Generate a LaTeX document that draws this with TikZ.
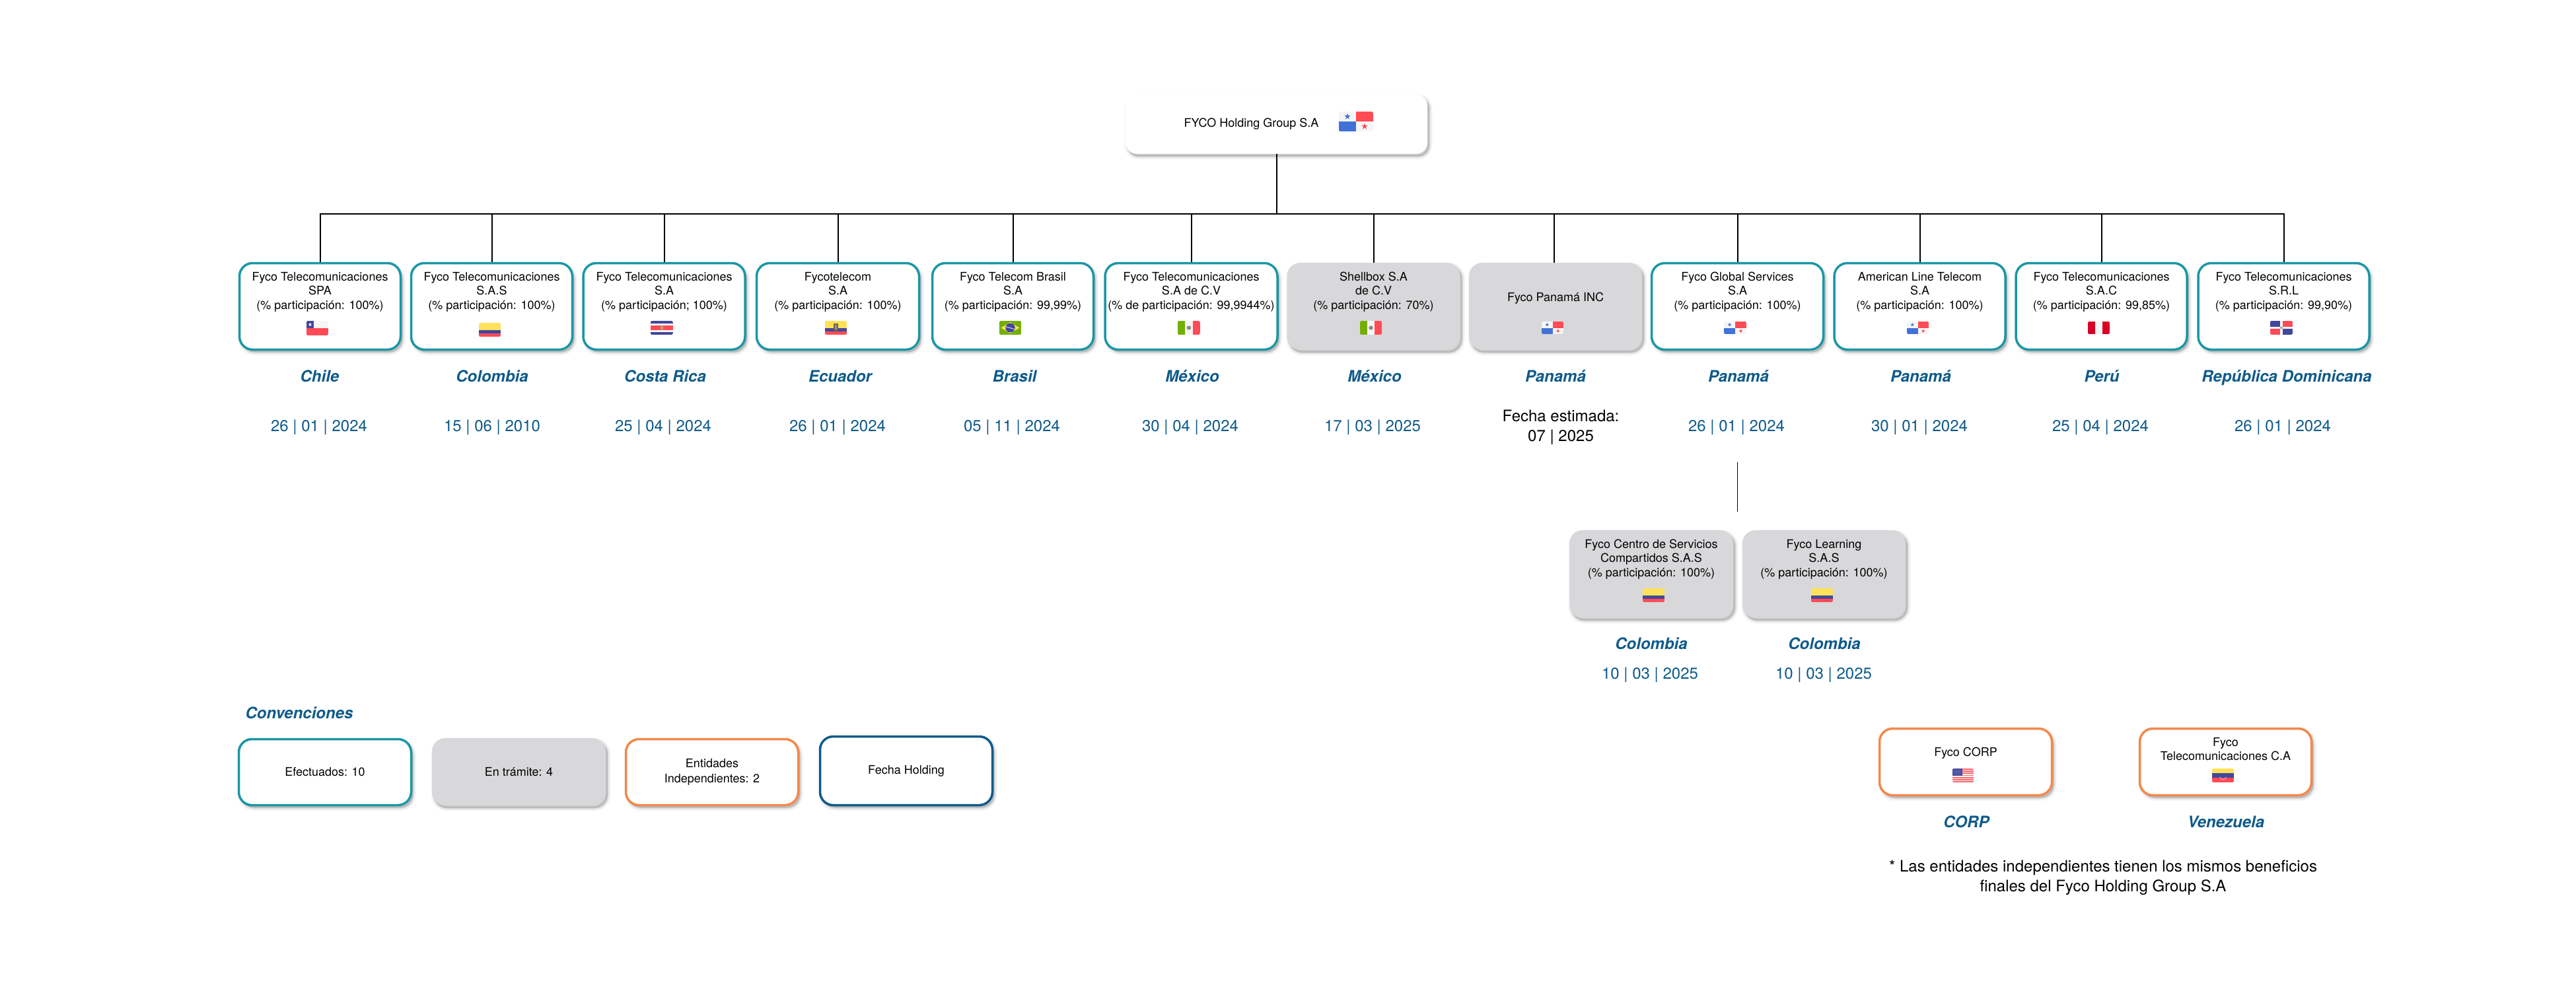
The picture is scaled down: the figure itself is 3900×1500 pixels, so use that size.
\documentclass[tikz,border=0pt]{standalone}
\usepackage{fontspec}
\setmainfont{TeX Gyre Heros}
\definecolor{tealc}{HTML}{1A97A5}
\definecolor{grayc}{HTML}{D8D8DA}
\definecolor{orangec}{HTML}{F4874B}
\definecolor{bluec}{HTML}{0E5A8A}
\definecolor{fred}{HTML}{FF4B55}
\definecolor{fblue}{HTML}{41479B}
\definecolor{pblue}{HTML}{4272D7}
\definecolor{fyel}{HTML}{FFE15A}
\definecolor{fwhite}{HTML}{F5F5F5}
\definecolor{fgreen}{HTML}{73AF00}
\definecolor{pered}{HTML}{D80027}
\newcommand\ftn{\fontsize{18}{21.5}\selectfont}
\newcommand\ftl{\fontsize{24}{30}\selectfont}
\newcommand\entthree[4]{\strut #1\\#2\\#3\\[#4pt]\strut}
% flag helpers: body coordinates run 0..1 across and down
\newcommand\flag[5]{\begin{scope}[shift={(#1,#2)},x=#3pt,y=-#4pt]
  \clip[rounded corners=2.2pt] (0,0) rectangle (1,1); #5 \end{scope}}
\newcommand\fstar[5]{\fill[#5,shift={(#1,#2)}] (90:#3pt) -- (126:#4pt) -- (162:#3pt) -- (198:#4pt) -- (234:#3pt) -- (270:#4pt) -- (306:#3pt) -- (342:#4pt) -- (18:#3pt) -- (54:#4pt) -- cycle;}
\newcommand\bandflag[3]{\fill[#1] (0,0) rectangle (1,.5); \fill[#2] (0,.5) rectangle (1,.75); \fill[#3] (0,.75) rectangle (1,1);}
\newcommand\fPA[2]{\fill[fwhite] (0,0) rectangle (1,1);
  \fill[fred] (.5,0) rectangle (1,.5); \fill[pblue] (0,.5) rectangle (.5,1);
  \fstar{.25}{.25}{#1}{#2}{pblue}\fstar{.75}{.75}{#1}{#2}{fred}}
\newcommand\fCO{\bandflag{fyel}{fblue}{fred}}
\newcommand\fCL{\fill[fwhite] (0,0) rectangle (1,.5); \fill[fred] (0,.5) rectangle (1,1); \fill[fblue] (0,0) rectangle (.33,.5); \fstar{.165}{.25}{3}{1.2}{white}}
\newcommand\fCR{\fill[fblue] (0,0) rectangle (1,1); \fill[fwhite] (0,.17) rectangle (1,.83); \fill[fred] (0,.33) rectangle (1,.67); \fill[fyel!60!black!70!white] (.45,.38) rectangle (.56,.62);}
\newcommand\fEC{\bandflag{fyel}{fblue}{fred}\fill[black!55!fyel] (.4,.2) rectangle (.6,.72); \fill[fblue!60!white] (.45,.3) rectangle (.55,.6);}
\newcommand\fBR{\fill[fgreen] (0,0) rectangle (1,1); \fill[fyel] (.5,.1) -- (.92,.5) -- (.5,.9) -- (.08,.5) -- cycle; \fill[fblue] (.5,.5) circle[x radius=.22,y radius=.33]; \draw[white,line width=.7pt] (.3,.42) -- (.7,.6);}
\newcommand\fMX{\fill[fwhite] (0,0) rectangle (1,1); \fill[fgreen] (0,0) rectangle (.33,1); \fill[fred] (.67,0) rectangle (1,1); \fill[black!45] (.5,.5) circle[x radius=.1,y radius=.15];}
\newcommand\fPE{\fill[fwhite] (0,0) rectangle (1,1); \fill[pered] (0,0) rectangle (.33,1); \fill[pered] (.67,0) rectangle (1,1);}
\newcommand\fDO{\fill[fwhite] (0,0) rectangle (1,1); \fill[fblue] (0,0) rectangle (.45,.45); \fill[fred] (.55,0) rectangle (1,.45); \fill[fred] (0,.55) rectangle (.45,1); \fill[fblue] (.55,.55) rectangle (1,1); \fill[black!35] (.44,.44) rectangle (.56,.56);}
\newcommand\fUS{\fill[fwhite] (0,0) rectangle (1,1);
  \foreach \k in {0,2,...,12}{\fill[fred!85!white] (0,\k/13) rectangle (1,\k/13+1/13);}
  \fill[fblue] (0,0) rectangle (.47,.54);
  \foreach \i in {1,...,6}{\foreach \j in {1,...,4}{\fill[white] (\i*.067,\j*.105) circle[radius=.35pt];}}}
\newcommand\fVE{\fill[fyel] (0,0) rectangle (1,.33); \fill[fblue] (0,.33) rectangle (1,.67); \fill[fred] (0,.67) rectangle (1,1);
  \draw[white,line width=.5pt] (.36,.6) arc[start angle=180,end angle=0,x radius=.14,y radius=.2];}
\tikzset{
  x=1pt,y=-1pt,
  softshadow/.style={
    preaction={transform canvas={shift={(3pt,-4pt)}},draw=black,draw opacity=.03,line width=9pt},
    preaction={transform canvas={shift={(3pt,-4pt)}},draw=black,draw opacity=.045,line width=6pt},
    preaction={transform canvas={shift={(3pt,-4pt)}},draw=black,draw opacity=.055,line width=3pt},
    preaction={transform canvas={shift={(3pt,-4pt)}},fill=black,fill opacity=.18}},
  entity/.style={softshadow,rounded corners=20pt,inner sep=0pt,align=center,font=\ftn,text=black},
  tealbox/.style={entity,draw=tealc,line width=3.5pt,fill=white,minimum height=131pt},
  graybox/.style={entity,fill=grayc,minimum height=132pt},
  lowbox/.style={entity,fill=grayc,minimum height=133pt},
  orangebox/.style={entity,draw=orangec,line width=3.5pt,fill=white,minimum height=101pt},
  legteal/.style={entity,draw=tealc,line width=3.5pt,fill=white,minimum height=100pt},
  leggray/.style={entity,fill=grayc,minimum height=102pt},
  legorange/.style={entity,draw=orangec,line width=3.5pt,fill=white,minimum height=100pt},
  legblue/.style={entity,draw=bluec,line width=3.5pt,fill=white,minimum height=104pt},
  holding/.style={entity,fill=white,rounded corners=17pt,minimum width=457pt,minimum height=90pt},
  place/.style={anchor=base,inner sep=0pt,font=\ftl\bfseries\itshape,text=bluec},
  datelbl/.style={anchor=base,inner sep=0pt,font=\ftl,text=bluec},
  plain/.style={inner sep=0pt,font=\ftl,text=black,align=center},
  conn/.style={draw=black,line width=2pt}
}
\begin{document}
\begin{tikzpicture}
\useasboundingbox (0,0) rectangle (3900,1500);
% holding
\node[holding] (top) at (1932.5,188) {FYCO Holding Group S.A\hspace{76pt}};
% first row
\node[tealbox,minimum width=244pt] (b1) at (484.5,464) {\entthree{Fyco Telecomunicaciones}{SPA}{(\% participación: 100\%)}{22}};
\node[tealbox,minimum width=244pt] (b2) at (744.5,464) {\entthree{Fyco Telecomunicaciones}{S.A.S}{(\% participación: 100\%)}{22}};
\node[tealbox,minimum width=245pt] (b3) at (1005.5,464) {\entthree{Fyco Telecomunicaciones}{S.A}{(\% participación; 100\%)}{22}};
\node[tealbox,minimum width=246pt] (b4) at (1268.5,464) {\entthree{Fycotelecom}{S.A}{(\% participación: 100\%)}{22}};
\node[tealbox,minimum width=244pt] (b5) at (1533.5,464) {\entthree{Fyco Telecom Brasil}{S.A}{(\% participación: 99,99\%)}{22}};
\node[tealbox,minimum width=261pt] (b6) at (1803.5,464) {\entthree{Fyco Telecomunicaciones}{S.A de C.V}{(\% de participación: 99,9944\%)}{22}};
\node[graybox,minimum width=262pt] (b7) at (2079.5,464) {\entthree{Shellbox S.A}{de C.V}{(\% participación: 70\%)}{22}};
\node[graybox,minimum width=262pt] (b8) at (2355,464) {\strut Fyco Panamá INC\\[3pt]\strut};
\node[tealbox,minimum width=260pt] (b9) at (2630.5,464) {\entthree{Fyco Global Services}{S.A}{(\% participación: 100\%)}{22}};
\node[tealbox,minimum width=259pt] (b10) at (2906.5,464) {\entthree{American Line Telecom}{S.A}{(\% participación: 100\%)}{22}};
\node[tealbox,minimum width=259pt] (b11) at (3181.5,464) {\entthree{Fyco Telecomunicaciones}{S.A.C}{(\% participación: 99,85\%)}{22}};
\node[tealbox,minimum width=259pt] (b12) at (3457.5,464) {\entthree{Fyco Telecomunicaciones}{S.R.L}{(\% participación: 99,90\%)}{22}};
% connectors
\coordinate (bus) at (1932.5,323.5);
\coordinate (subtop) at (2630.5,700);
\coordinate (subend) at (2630.5,775);
\draw[conn] (top.south) -- (bus);
\foreach \b in {b1,b2,b3,b4,b5,b6,b7,b9,b10,b11,b12}{\draw[conn] (\b.north) |- (bus);}
\draw[conn] ([xshift=-2.5pt]b8.north) |- (bus);
\draw[conn,line width=1.6pt] (subtop) -- (subend);
% places and dates, first row
\node[place] (p1) at (484,578) {Chile};
\node[place] (p2) at (745,578) {Colombia};
\node[place] (p3) at (1007,578) {Costa Rica};
\node[place] (p4) at (1272,578) {Ecuador};
\node[place] (p5) at (1536,578) {Brasil};
\node[place] (p6) at (1805,578) {México};
\node[place] (p7) at (2081,578) {México};
\node[place] (p8) at (2355,578) {Panamá};
\node[place] (p9) at (2632,578) {Panamá};
\node[place] (p10) at (2908,578) {Panamá};
\node[place] (p11) at (3182,578) {Perú};
\node[place] (p12) at (3462,578) {República Dominicana};
\node[datelbl] (d1) at (483,653) {26 | 01 | 2024};
\node[datelbl] (d2) at (745,653) {15 | 06 | 2010};
\node[datelbl] (d3) at (1004,653) {25 | 04 | 2024};
\node[datelbl] (d4) at (1268,653) {26 | 01 | 2024};
\node[datelbl] (d5) at (1532,653) {05 | 11 | 2024};
\node[datelbl] (d6) at (1802,653) {30 | 04 | 2024};
\node[datelbl] (d7) at (2078,653) {17 | 03 | 2025};
\node[plain,anchor=base] (d8) at (2363,668) {Fecha estimada:\\07 | 2025};
\node[datelbl] (d9) at (2629,653) {26 | 01 | 2024};
\node[datelbl] (d10) at (2906,653) {30 | 01 | 2024};
\node[datelbl] (d11) at (3180,653) {25 | 04 | 2024};
\node[datelbl] (d12) at (3456,653) {26 | 01 | 2024};
% second level
\node[lowbox,minimum width=248pt] (c1) at (2500,869.5) {\entthree{Fyco Centro de Servicios}{Compartidos S.A.S}{(\% participación: 100\%)}{23}};
\node[lowbox,minimum width=247pt] (c2) at (2761.5,869.5) {\entthree{Fyco Learning}{S.A.S}{(\% participación: 100\%)}{23}};
\node[place] (pc1) at (2500,983) {Colombia};
\node[place] (pc2) at (2762,983) {Colombia};
\node[datelbl] (dc1) at (2498,1028) {10 | 03 | 2025};
\node[datelbl] (dc2) at (2761,1028) {10 | 03 | 2025};
% legend
\node[place] (conv) at (453,1088) {Convenciones};
\node[legteal,minimum width=261pt] (l1) at (492,1169.5) {Efectuados: 10};
\node[leggray,minimum width=263pt] (l2) at (785.5,1169) {En trámite: 4};
\node[legorange,minimum width=261pt] (l3) at (1078,1169.5) {Entidades\\[1.5pt]Independientes: 2};
\node[legblue,minimum width=261pt] (l4) at (1372,1167.5) {Fecha Holding};
% independent entities
\node[orangebox,minimum width=261pt] (e1) at (2976,1154) {\strut Fyco CORP\\[5pt]\strut};
\node[orangebox,minimum width=260pt] (e2) at (3369.5,1154) {\strut Fyco\\Telecomunicaciones C.A\\[13.5pt]\strut};
\node[place] (pe1) at (2977,1253) {CORP};
\node[place] (pe2) at (3370,1253) {Venezuela};
\node[plain,anchor=base] (note) at (3184,1350) {* Las entidades independientes tienen los mismos beneficios\\finales del Fyco Holding Group S.A};
% flags
\flag{2027}{169}{52}{30}{\fPA{5}{2}}
\flag{464}{486}{33}{22}{\fCL}
\flag{725}{489}{33}{21}{\fCO}
\flag{985}{486}{34}{21}{\fCR}
\flag{1249}{486}{33}{21}{\fEC}
\flag{1513}{486}{33}{21}{\fBR}
\flag{1783}{486}{34}{21}{\fMX}
\flag{2059}{486}{33}{21}{\fMX}
\flag{2334}{487}{33}{19}{\fPA{3}{1.2}}
\flag{2610}{487}{34}{19}{\fPA{3}{1.2}}
\flag{2887}{487}{33}{19}{\fPA{3}{1.2}}
\flag{3161}{487}{33}{19}{\fPE}
\flag{3437}{486}{34}{21}{\fDO}
\flag{2487}{891}{33}{21}{\fCO}
\flag{2742}{891}{33}{21}{\fCO}
\flag{2956}{1164}{32}{21}{\fUS}
\flag{3349}{1164}{33}{21}{\fVE}
\end{tikzpicture}
\end{document}
